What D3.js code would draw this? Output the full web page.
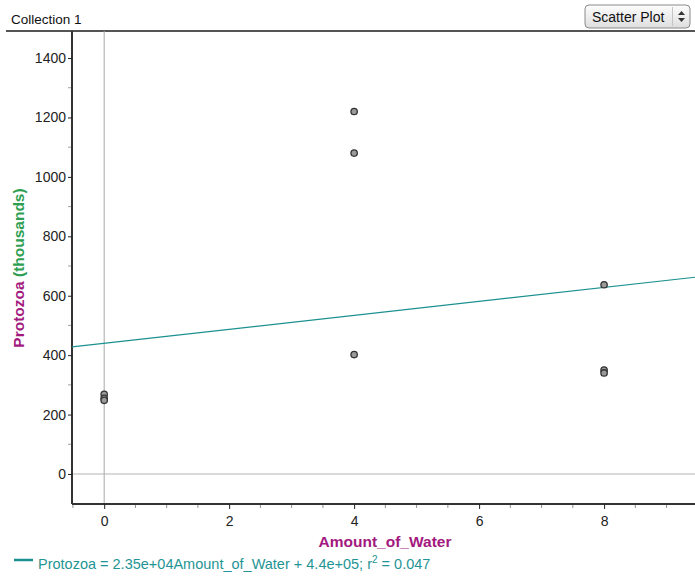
<!DOCTYPE html>
<html>
<head>
<meta charset="utf-8">
<script src="https://cdn.jsdelivr.net/npm/d3@7"></script>
<style>
  body { margin: 0; background: #fff; font-family: "Liberation Sans", Arial, sans-serif; }
  svg text { font-family: "Liberation Sans", Arial, sans-serif; }
</style>
</head>
<body>
<div id="chart"></div>
<script>
// data (Protozoa in thousands)
const waterAmounts = [0, 0, 0, 4, 4, 4, 8, 8, 8];
const protozoa = [268, 255, 248, 1220, 1080, 402, 637, 350, 340];
const xTickValues = [0, 2, 4, 6, 8];
const yTickValues = [0, 200, 400, 600, 800, 1000, 1200, 1400];
// least squares line from the legend: 2.35e+04 * x + 4.4e+05 (in thousands)
const fitSlope = 23.5;
const fitIntercept = 440;
const equationText = "Protozoa = 2.35e+04Amount_of_Water + 4.4e+05; r";

const W = 695, H = 576;
const margin = {top: 31, right: 0, bottom: 72, left: 72};
const width = W - margin.left - margin.right;
const height = H - margin.top - margin.bottom;

const svg = d3.select("#chart").append("svg")
    .attr("width", W)
    .attr("height", H);

// header
svg.append("text")
    .attr("x", 11).attr("y", 24)
    .attr("font-size", 13.5).attr("fill", "#111")
    .text("Collection 1");

svg.append("line")
    .attr("x1", 6).attr("x2", W)
    .attr("y1", 31).attr("y2", 31)
    .attr("stroke", "#555").attr("stroke-width", 2);

// fake popup button
const btn = svg.append("g").attr("transform", "translate(585,5)");
const grad = svg.append("defs").append("linearGradient")
    .attr("id", "btnGrad").attr("x1", 0).attr("x2", 0).attr("y1", 0).attr("y2", 1);
grad.append("stop").attr("offset", "0%").attr("stop-color", "#fdfdfd");
grad.append("stop").attr("offset", "100%").attr("stop-color", "#dedede");
btn.append("rect")
    .attr("width", 105).attr("height", 23).attr("rx", 4)
    .attr("fill", "url(#btnGrad)").attr("stroke", "#8a8a8a");
btn.append("text")
    .attr("x", 7).attr("y", 16.5)
    .attr("font-size", 14).attr("fill", "#111")
    .text("Scatter Plot");
btn.append("line")
    .attr("x1", 87.5).attr("x2", 87.5).attr("y1", 2).attr("y2", 21)
    .attr("stroke", "#c4c4c4");
btn.append("path").attr("d", "M93,10 L96.5,6 L100,10 Z").attr("fill", "#333");
btn.append("path").attr("d", "M93,13 L96.5,17 L100,13 Z").attr("fill", "#333");

const g = svg.append("g")
    .attr("transform", "translate(" + margin.left + "," + margin.top + ")");

const x = d3.scaleLinear()
    .domain([-0.515, 9.455])
    .range([0, width]);

const y = d3.scaleLinear()
    .domain([-101, 1491])
    .range([height, 0]);

// zero lines
g.append("line")
    .attr("x1", x(0)).attr("x2", x(0))
    .attr("y1", 0).attr("y2", height)
    .attr("stroke", "#a8a8a8");
g.append("line")
    .attr("x1", 0).attr("x2", width)
    .attr("y1", y(0)).attr("y2", y(0))
    .attr("stroke", "#b4b4b4");

// minor ticks
g.append("g").selectAll("line")
    .data(d3.range(-0.5, 9.5, 0.5).filter(v => v % 2 !== 0))
    .join("line")
    .attr("x1", d => x(d)).attr("x2", d => x(d))
    .attr("y1", height).attr("y2", height + 4)
    .attr("stroke", "#909090");
g.append("g").selectAll("line")
    .data(d3.range(100, 1500, 200))
    .join("line")
    .attr("x1", -4).attr("x2", 0)
    .attr("y1", d => y(d)).attr("y2", d => y(d))
    .attr("stroke", "#a0a0a0");

// axes
const xAxis = g.append("g")
    .attr("transform", "translate(0," + height + ")")
    .call(d3.axisBottom(x).tickValues(xTickValues).tickSize(5).tickSizeOuter(0));
const yAxis = g.append("g")
    .call(d3.axisLeft(y).tickValues(yTickValues).tickFormat(d3.format("d")).tickSize(4).tickSizeOuter(0));

[xAxis, yAxis].forEach(ax => {
    ax.select(".domain").attr("stroke", "#333").attr("stroke-width", 2);
    ax.selectAll(".tick line").attr("stroke", "#222");
    ax.selectAll(".tick text")
        .attr("font-size", 14)
        .attr("fill", "#222")
        .attr("font-family", "Liberation Sans, Arial, sans-serif");
});
yAxis.select(".domain").attr("d", "M0,0V" + height);
xAxis.select(".domain").attr("d", "M0,0H" + width);
xAxis.selectAll(".tick text").attr("dy", "1.0em");
yAxis.selectAll(".tick text").attr("x", -6);

// regression line
const xd = x.domain();
g.append("line")
    .attr("x1", x(xd[0])).attr("y1", y(fitIntercept + fitSlope * xd[0]))
    .attr("x2", x(xd[1])).attr("y2", y(fitIntercept + fitSlope * xd[1]))
    .attr("stroke", "#1b9090").attr("stroke-width", 1.2);

// points
g.append("g").selectAll("circle")
    .data(waterAmounts.map((w, i) => ({w: w, p: protozoa[i]})))
    .join("circle")
    .attr("cx", d => x(d.w))
    .attr("cy", d => y(d.p))
    .attr("r", 3.2)
    .attr("fill", "#9a9a9a")
    .attr("stroke", "#333")
    .attr("stroke-width", 1.3);

// axis labels
svg.append("text")
    .attr("transform", "translate(24," + 268 + ") rotate(-90)")
    .attr("text-anchor", "middle")
    .attr("font-size", 15.5).attr("font-weight", "bold")
    .call(t => {
        t.append("tspan").attr("fill", "#a3197e").text("Protozoa ");
        t.append("tspan").attr("fill", "#2e9e52").text("(thousands)");
    });

svg.append("text")
    .attr("x", 385)
    .attr("y", 547)
    .attr("text-anchor", "middle")
    .attr("font-size", 15.5).attr("font-weight", "bold")
    .attr("fill", "#a3197e")
    .text("Amount_of_Water");

// equation legend
svg.append("line")
    .attr("x1", 14).attr("x2", 33)
    .attr("y1", 560).attr("y2", 560)
    .attr("stroke", "#1b9090").attr("stroke-width", 2.5);
const eq = svg.append("text")
    .attr("x", 38).attr("y", 569)
    .attr("font-size", 14.5).attr("fill", "#1f9595");
eq.append("tspan").text(equationText);
eq.append("tspan").attr("dy", -6).attr("font-size", 10).text("2");
eq.append("tspan").attr("dy", 6).text(" = 0.047");
</script>
</body>
</html>
